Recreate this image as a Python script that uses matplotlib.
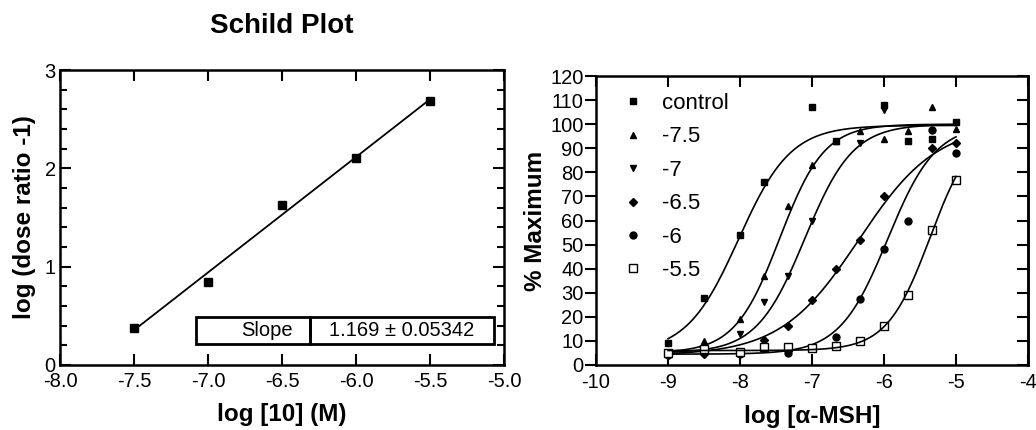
import numpy as np
import matplotlib
matplotlib.use("Agg")
import matplotlib.pyplot as plt
from matplotlib.patches import Rectangle

plt.rcParams['font.family'] = ['Liberation Sans', 'DejaVu Sans']
plt.rcParams['axes.unicode_minus'] = False

# Schild plot data
schild_x = [-7.5, -7.0, -6.5, -6.0, -5.5]
schild_y = [0.38, 0.84, 1.63, 2.11, 2.68]
slope_text = "1.169 ± 0.05342"

# Concentration-response data (log [alpha-MSH])
log_msh = [-9, -8.5, -8, -7.67, -7.33, -7, -6.67, -6.33, -6, -5.67, -5.33, -5]
nan = np.nan
series_labels = ["control", "-7.5", "-7", "-6.5", "-6", "-5.5"]
resp_control = [9, 28, 54, 76, nan, 107, 93, nan, 108, 93, 94, 101]
resp_75 = [5.5, 10, 19, 37, 66, 83, 93, 97, 94, 97, 107, 98]
resp_70 = [5, 6, 13, 26, 37, 60, nan, 92, 106, nan, nan, nan]
resp_65 = [4, 4.5, 5, 10.5, 16, 27, 40, 52, 70, nan, 90, 92]
resp_60 = [4, nan, 4.5, nan, 5, nan, 11.5, 27.5, 48, 60, 97.5, 88]
resp_55 = [5, 6.5, 5.5, 7.5, 7.5, 7, 8, 10, 16, 29, 56, 77]
responses = [resp_control, resp_75, resp_70, resp_65, resp_60, resp_55]

# fitted 4-parameter logistic curves: bottom, top, logEC50, hill slope
fit_bottom = [5, 5, 5, 4, 4.5, 6]
fit_top = [99.5, 100, 100, 100, 100, 100]
fit_ec50 = [-8.02, -7.45, -7.1, -6.35, -5.95, -5.36]
fit_hill = [1.2, 1.4, 1.3, 0.8, 1.3, 1.45]

markers = ['s', '^', 'v', 'D', 'o', 's']
msizes = [5, 5, 5, 3.8, 5, 6]
faces = ['black', 'black', 'black', 'black', 'black', 'white']

fig = plt.figure(figsize=(10.36, 4.3), dpi=100)

# ---- left: Schild plot ----
ax1 = fig.add_axes([0.0579, 0.1512, 0.4286, 0.686])
ax1.plot(schild_x, schild_y, 's', color='black', markersize=5.5)
p = np.polyfit(schild_x, schild_y, 1)
xs = np.array([schild_x[0], schild_x[-1]])
ax1.plot(xs, np.polyval(p, xs), color='black', lw=1.3)
ax1.set_xlim(-8, -5)
ax1.set_ylim(0, 3)
ax1.set_xticks(np.arange(-8, -4.9, 0.5))
ax1.set_xticklabels([f"{v:.1f}" for v in np.arange(-8, -4.9, 0.5)])
ax1.set_yticks([0, 1, 2, 3])
ax1.set_yticks(np.arange(0, 3.01, 0.2), minor=True)
ax1.tick_params(axis='both', which='both', direction='in', top=True, right=True,
                labelsize=14.5, width=1.5)
ax1.tick_params(axis='y', which='major', length=8, pad=3)
ax1.tick_params(axis='y', which='minor', length=5)
ax1.tick_params(axis='x', which='major', length=8, pad=5)
for s in ax1.spines.values():
    s.set_linewidth(1.8)
ax1.set_xlabel("log [10] (M)", fontsize=17.5, fontweight='bold', labelpad=9)
ax1.set_ylabel("log (dose ratio -1)", fontsize=17.5, fontweight='bold', labelpad=6)
ax1.set_title("Schild Plot", fontsize=20, fontweight='bold', pad=27)

# slope box
ax1.add_patch(Rectangle((-7.08, 0.21), 0.77, 0.28, fill=False, lw=2, ec='black'))
ax1.add_patch(Rectangle((-6.31, 0.21), 1.24, 0.28, fill=False, lw=2, ec='black'))
ax1.text(-6.43, 0.35, "Slope", ha='right', va='center', fontsize=14.5)
ax1.text(-5.69, 0.35, slope_text, ha='center', va='center', fontsize=14.5)

# ---- right: concentration-response curves ----
ax2 = fig.add_axes([0.5753, 0.1512, 0.417, 0.672])
xc = np.linspace(-9, -5, 300)
for i, lab in enumerate(series_labels):
    ax2.plot(log_msh, responses[i], linestyle='none', marker=markers[i],
             markersize=msizes[i], mfc=faces[i], mec='black', mew=1.0, label=lab)
    yc = fit_bottom[i] + (fit_top[i] - fit_bottom[i]) / (1 + 10 ** ((fit_ec50[i] - xc) * fit_hill[i]))
    ax2.plot(xc, yc, color='black', lw=1.2)
ax2.set_xlim(-10, -4)
ax2.set_ylim(0, 120)
ax2.set_xticks(range(-10, -3))
ax2.set_yticks(range(0, 121, 10))
ax2.tick_params(axis='x', direction='in', top=True, length=8, width=1.5, labelsize=14.5, pad=6)
ax2.tick_params(axis='y', left=True, right=False, direction='out', length=8, width=1.5,
                labelsize=14.5, pad=1)
ax2r = ax2.secondary_yaxis('right')
ax2r.set_yticks(range(0, 121, 10))
ax2r.tick_params(direction='in', length=8, width=1.5, labelright=False)
ax2r.set_yticklabels([])
for s in ax2.spines.values():
    s.set_linewidth(1.8)
ax2r.spines['right'].set_linewidth(1.8)
ax2.set_xlabel("log [α-MSH]", fontsize=17.5, fontweight='bold', labelpad=9)
ax2.set_ylabel("% Maximum", fontsize=17.5, fontweight='bold', labelpad=2)
ax2.legend(loc='upper left', bbox_to_anchor=(0.025, 0.995), frameon=False, fontsize=16,
           handlelength=1.0, handletextpad=0.8, labelspacing=0.56, borderpad=0.2)

fig.savefig("out.png", dpi=100)
